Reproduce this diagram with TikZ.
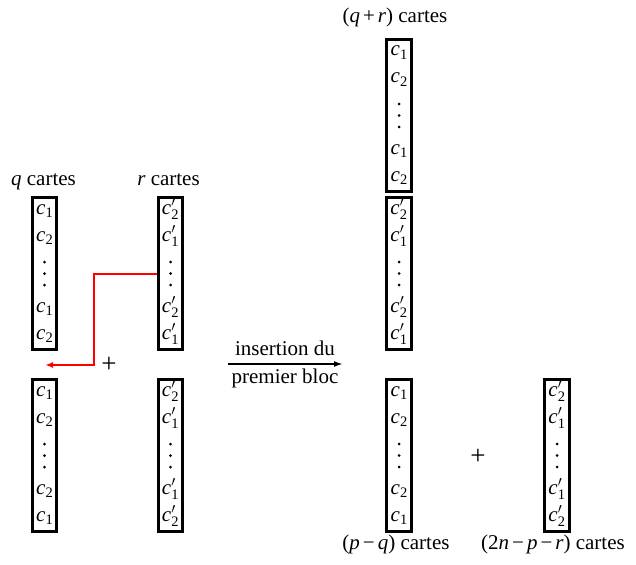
\documentclass[tikz,border=0pt]{standalone}
\usepackage{fontspec}
\setmainfont{Liberation Serif}
\usetikzlibrary{arrows.meta}
\newcommand\subfs{\fontsize{14.5}{15}\selectfont}
\newcommand\cx[1]{\textit{c}\raisebox{-0.4ex}{\subfs #1}}
\newcommand\cpx[1]{\textit{c}$^{\prime}_{\hbox{\subfs #1}}$}
\newcommand\pile[7]{%
  \node[pilebox] (#1) at (#2,#3) {};
  \node[entry] (#1-1) at ([yshift=59.5pt]#1.center) {#4};
  \node[entry] (#1-2) at ([yshift=32.5pt]#1.center) {#5};
  \node[dotmark] (#1-da) at ([yshift=11.5pt]#1.center) {};
  \node[dotmark] (#1-db) at (#1.center) {};
  \node[dotmark] (#1-dc) at ([yshift=-11.5pt]#1.center) {};
  \node[entry] (#1-4) at ([yshift=-38.5pt]#1.center) {#6};
  \node[entry] (#1-5) at ([yshift=-65.5pt]#1.center) {#7};
}
\begin{document}
\begin{tikzpicture}[x=1pt,y=-1pt,
  every node/.style={font=\fontsize{21}{25}\selectfont},
  pilebox/.style={draw, line width=2.6pt, minimum width=24.5pt, minimum height=152.5pt, inner sep=0pt},
  entry/.style={anchor=base, inner sep=0pt},
  dotmark/.style={circle, fill=black, inner sep=0pt, minimum size=3pt},
  lbl/.style={anchor=base, inner sep=0pt},
  plus/.style={inner sep=0pt, font=\fontsize{27}{30}\selectfont},
  redarrow/.style={draw=red, line width=2pt, -{Latex[length=8pt,width=6pt]}},
  mainarrow/.style={draw=black, line width=2pt, -{Latex[length=9pt,width=6pt]}}]
\useasboundingbox (0,0) rectangle (636,564);
% left column
\pile{qA}{44.5}{273.5}{\cx1}{\cx2}{\cx1}{\cx2}
\pile{rA}{170.5}{273.5}{\cpx2}{\cpx1}{\cpx2}{\cpx1}
\pile{qB}{44.5}{455.5}{\cx1}{\cx2}{\cx2}{\cx1}
\pile{rB}{170.5}{455.5}{\cpx2}{\cpx1}{\cpx1}{\cpx2}
% right column
\pile{T1}{399}{115.5}{\cx1}{\cx2}{\cx1}{\cx2}
\pile{T2}{399}{273.5}{\cpx2}{\cpx1}{\cpx2}{\cpx1}
\pile{B1}{399}{455.5}{\cx1}{\cx2}{\cx2}{\cx1}
\pile{B2}{557}{455.5}{\cpx2}{\cpx1}{\cpx1}{\cpx2}
% labels
\node[lbl] (lq) at (43.5,185) {\textit{q} cartes};
\node[lbl] (lr) at (168.5,185) {\textit{r} cartes};
\node[lbl] (lqr) at (395,23) {(\textit{q}\kern3pt+\kern3pt\textit{r}) cartes};
\node[lbl] (lpq) at (396,549) {(\textit{p}\kern3pt−\kern3pt\textit{q}) cartes};
\node[lbl] (lnpr) at (553,549) {(2\textit{n}\kern3pt−\kern3pt\textit{p}\kern3pt−\kern3pt\textit{r}) cartes};
% plus signs
\node[plus] (plusL) at (109,365) {+};
\node[plus] (plusR) at (478,457) {+};
% red connector
\coordinate (bend) at (94,365);
\coordinate (tip) at (45,365);
\draw[redarrow] (rA.west) -| (bend) -- (tip);
% main arrow
\coordinate (arrS) at (228,364);
\coordinate (arrE) at (343,364);
\draw[mainarrow] (arrS) -- (arrE);
\node[lbl] (ins1) at (285,355) {insertion du};
\node[lbl] (ins2) at (285,383) {premier bloc};
\end{tikzpicture}
\end{document}
